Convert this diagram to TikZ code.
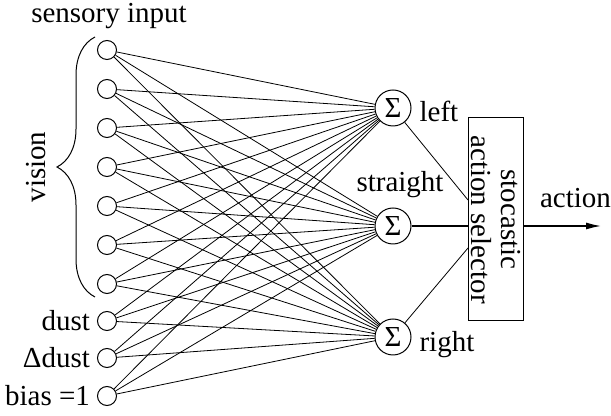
\documentclass[tikz,border=0pt]{standalone}
\usepackage{fontspec}
\setmainfont{Liberation Serif}
\usetikzlibrary{arrows.meta,positioning,calc,decorations.pathreplacing}

\begin{document}
\begin{tikzpicture}[x=0.5pt,y=-0.5pt,
        font=\fontsize{14.5}{15}\selectfont,
        unit/.style={circle,draw,line width=0.5pt,inner sep=0pt,minimum size=9.5pt},
        sum/.style={circle,draw,line width=0.5pt,inner sep=0pt,minimum size=18pt},
        wire/.style={line width=0.4pt},
        thick wire/.style={line width=1pt}]
        \useasboundingbox (0,0) rectangle (611,416);

        % input units
        \foreach \i/\y in {1/50,2/89,3/128,4/167,5/206,6/245,7/284,8/321,9/358,10/396}
            {
                \node[unit] (I\i) at (107,\y) {};
            }
        \node[left=0pt of I8] (Ldust) {dust};
        \node[left=0pt of I9] (Lddust) {Δdust};
        \node[left=0pt of I10] (Lbias) {bias =1};
        \node[anchor=base] (Lsens) at ($(I1.north)+(1pt,8.75pt)$) {sensory input};

        \draw[line width=0.5pt,decorate,decoration={brace,amplitude=19pt}]
            ($(I7.west)+(-2,13)$) -- ($(I1.west)+(-2,-13)$);
        \node[rotate=90] (Lvis) at (36,167) {vision};

        % summing units
        \node[sum] (S1) at (393,108) {Σ};
        \node[sum] (S2) at (393,226) {Σ};
        \node[sum] (S3) at (393,337) {Σ};
        \node[anchor=base west] (Lleft) at ($(S1.east)+(0.5pt,-7pt)$) {left};
        \node[anchor=base] (Lstr) at ($(S2.north)+(3.5pt,8pt)$) {straight};
        \node[anchor=base west] (Lright) at ($(S3.east)+(0.5pt,-7.5pt)$) {right};

        \foreach \i in {1,...,10}
            {
                \foreach \j in {1,2,3}
                    {
                        \draw[wire] (I\i) -- (S\j);
                    }
            }

        % action selector
        \node[draw,line width=0.5pt,inner sep=0pt,minimum width=27.5pt,minimum height=101.5pt] (sel) at (495.5,219.5) {};
        \node[rotate=-90,align=center] (Lsel) at (sel.center) {stocastic\\action selector};
        \coordinate (selA) at (468,200);
        \coordinate (selC) at (468,248);
        \coordinate (out) at (602,226);

        \draw[wire] (S1) -- (selA);
        \draw[wire] (S3) -- (selC);
        \draw[thick wire] (S2) -- (sel.west |- S2);
        \draw[thick wire,-{Latex[length=8pt,width=3.5pt]}] (sel.east |- S2) -- (out);
        \node[anchor=base] (Lact) at ($(sel.east |- S2)+(26pt,9pt)$) {action};
    \end{tikzpicture}
\end{document}
